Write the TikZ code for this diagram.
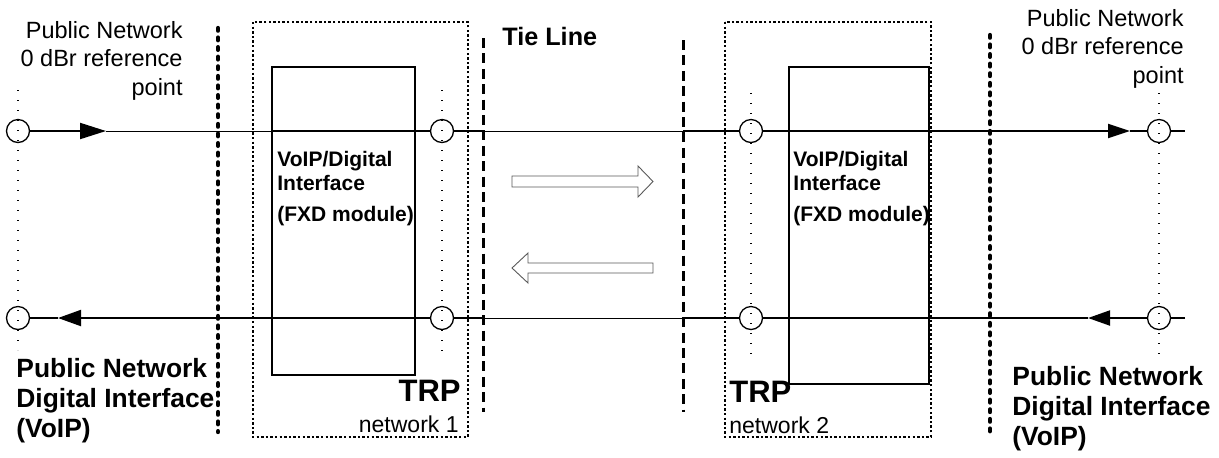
\documentclass[tikz,border=0pt]{standalone}
\usepackage{fontspec}
\setmainfont{Liberation Sans}
\usetikzlibrary{arrows.meta}
\tikzset{
  sig/.style={line width=1pt},
  sigthin/.style={line width=0.5pt},
  refpt/.style={circle, draw, line width=0.65pt, fill=white, minimum size=11.5pt, inner sep=0pt},
  guide/.style={line width=0.55pt, dash pattern=on 0.55pt off 4.45pt},
  border/.style={line width=2.2pt, line cap=round, dash pattern=on 1.3pt off 3.5pt},
  tieline/.style={line width=1.5pt, dash pattern=on 5pt off 2.7pt},
  netbox/.style={line width=0.65pt, dash pattern=on 1.2pt off 1.1pt},
  modbox/.style={line width=0.6pt},
  hollow/.style={draw=black!65, line width=0.45pt},
  lbl/.style={inner sep=0pt}
}
\newcommand{\lblfont}{\fontsize{11.75}{14.25}\selectfont}
\newcommand{\pubfont}{\fontsize{13.2}{15}\selectfont\bfseries}
\newcommand{\modfont}{\fontsize{10.5}{12}\selectfont\bfseries}
\begin{document}
\begin{tikzpicture}[x=0.5pt,y=-0.5pt]
\useasboundingbox (0,0) rectangle (1219,457);
% network boxes and modules
\draw[netbox] (253,22) rectangle (468,437);
\draw[netbox] (725,22) rectangle (931,437);
\draw[modbox] (272,67) rectangle (415,375);
\draw[modbox] (789,67) rectangle (929,384);
\draw[sig] (272,131) -- (272,318);
\draw[sig] (929,131) -- (929,318);
% reference points
\node[refpt] (c1) at (18,131) {};
\node[refpt] (c2) at (18,318) {};
\node[refpt] (c3) at (442,131) {};
\node[refpt] (c4) at (442,318) {};
\node[refpt] (c5) at (751,131) {};
\node[refpt] (c6) at (751,318) {};
\node[refpt] (c7) at (1159,131) {};
\node[refpt] (c8) at (1159,318) {};
\coordinate (a1) at (106,131);
\coordinate (k1) at (272,131);
\coordinate (t1) at (483,131);
\coordinate (t2) at (683,131);
\coordinate (a2) at (1130,131);
\coordinate (e1) at (1185,131);
\coordinate (a4) at (58,318);
\coordinate (t3) at (483,318);
\coordinate (t4) at (683,318);
\coordinate (a3) at (1088,318);
\coordinate (e2) at (1185,318);
% upper path
\draw[sig, -{Triangle[length=13pt,width=8pt]}] (c1) -- (a1);
\draw[sigthin] (a1) -- (k1);
\draw[sig] (k1) -- (c3);
\draw[sig] (c3) -- (t1);
\draw[sigthin] (t1) -- (t2);
\draw[sig] (t2) -- (c5);
\draw[sig, -{Triangle[length=11pt,width=7pt]}] (c5) -- (a2);
\draw[sig] (a2) -- (c7);
\draw[sig] (c7) -- (e1);
% lower path
\draw[sig] (e2) -- (c8);
\draw[sig, -{Triangle[length=11pt,width=7.5pt]}] (c8) -- (a3);
\draw[sig] (a3) -- (c6);
\draw[sig] (c6) -- (t4);
\draw[sigthin] (t4) -- (t3);
\draw[sig] (t3) -- (c4);
\draw[sig, -{Triangle[length=11.5pt,width=8pt]}] (c4) -- (a4);
\draw[sig] (a4) -- (c2);
% dotted verticals
\draw[guide] (18,90) -- (18,350);
\draw[guide] (442,90) -- (442,352);
\draw[guide] (751,93) -- (751,355);
\draw[guide] (1159,93) -- (1159,355);
% interface borders and tie line
\draw[border] (218,28) -- (218,432);
\draw[border] (990,35) -- (990,433);
\draw[tieline] (483,38) -- (483,412);
\draw[tieline] (683,40) -- (683,412);
% direction arrows
\draw[hollow] (512,176) -- (638,176) -- (638,166) -- (653,181.5) -- (638,197) -- (638,187) -- (512,187) -- cycle;
\draw[hollow] (653,263) -- (528,263) -- (528,253) -- (512,268) -- (528,283) -- (528,273) -- (653,273) -- cycle;
% labels
\node[lbl, anchor=north east, align=right, font=\lblfont] (pnl) at (183,21) {Public Network\\0 dBr reference\\point};
\node[lbl, anchor=north east, align=right, font=\lblfont] (pnr) at (1184,9) {Public Network\\0 dBr reference\\point};
\node[lbl, anchor=north west, align=left, font=\pubfont] (pdl) at (16,358) {Public Network\\Digital Interface\\(VoIP)};
\node[lbl, anchor=north west, align=left, font=\pubfont] (pdr) at (1012,366) {Public Network\\Digital Interface\\(VoIP)};
\node[lbl, anchor=north west, align=left, font=\modfont] (mod1) at (277,151) {VoIP/Digital\\Interface\\[3.5pt](FXD module)};
\node[lbl, anchor=north west, align=left, font=\modfont] (mod2) at (793,151) {VoIP/Digital\\Interface\\[3.5pt](FXD module)};
\node[lbl, anchor=base east, font=\fontsize{15.5}{18}\selectfont\bfseries] (trp1) at (461,401) {TRP};
\node[lbl, anchor=base west, font=\fontsize{15.5}{18}\selectfont\bfseries] (trp2) at (729,402) {TRP};
\node[lbl, anchor=base east, font=\fontsize{11.5}{14}\selectfont] (net1) at (459,432) {network 1};
\node[lbl, anchor=base west, font=\fontsize{11.5}{14}\selectfont] (net2) at (729,433) {network 2};
\node[lbl, anchor=base west, font=\fontsize{12.6}{15}\selectfont\bfseries] (tie) at (502,45) {Tie Line};
\end{tikzpicture}
\end{document}
